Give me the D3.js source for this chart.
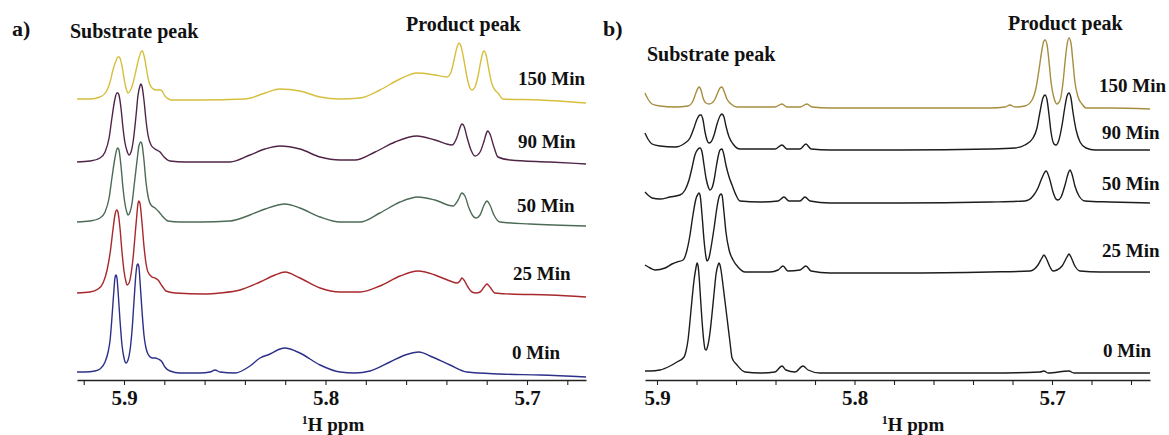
<!DOCTYPE html>
<html>
<head>
<meta charset="utf-8">
<script src="https://cdn.jsdelivr.net/npm/d3@7"></script>
<style>
  body { margin: 0; background: #fff; }
  svg { display: block; }
  text { font-family: "Liberation Serif", "Times New Roman", serif; font-weight: bold; fill: #111; }
</style>
</head>
<body>
<svg id="chart" width="1169" height="435"></svg>
<script>
// ---- 1H NMR spectra, [ppm, intensity] pairs (intensity relative to each trace's baseline) ----

// Panel a)
const specA0 = [[5.9233,1],[5.9194,1],[5.9144,2],[5.9119,4],[5.9094,11],[5.9079,21],[5.9069,33],[5.9060,55],[5.9050,83],[5.9045,95],[5.9040,98],[5.9035,95],[5.9030,83],[5.9020,53],[5.9010,28],[5.9000,15],[5.8990,10],[5.8980,13],[5.8970,23],[5.8960,43],[5.8950,73],[5.8940,101],[5.8935,108],[5.8931,109],[5.8926,106],[5.8921,93],[5.8911,63],[5.8901,38],[5.8891,25],[5.8881,19],[5.8861,15],[5.8846,15],[5.8831,14],[5.8811,11],[5.8797,6],[5.8772,2],[5.8722,0],[5.8623,0],[5.8573,1],[5.8548,3],[5.8524,1],[5.8449,0],[5.8375,7],[5.8325,15],[5.8275,19],[5.8226,24],[5.8201,25],[5.8176,24],[5.8127,20],[5.8027,8],[5.7928,1],[5.7854,0],[5.7779,2],[5.7680,11],[5.7605,18],[5.7536,21],[5.7481,17],[5.7382,8],[5.7298,1],[5.7134,-1],[5.6935,-2],[5.6707,-4]];
const specA25 = [[5.9233,1],[5.9169,2],[5.9129,5],[5.9104,11],[5.9084,24],[5.9069,41],[5.9055,64],[5.9045,79],[5.9040,83],[5.9035,84],[5.9030,82],[5.9020,66],[5.9010,42],[5.9000,23],[5.8990,12],[5.8985,9],[5.8975,11],[5.8965,20],[5.8955,36],[5.8945,59],[5.8935,82],[5.8931,90],[5.8926,93],[5.8921,91],[5.8911,72],[5.8901,48],[5.8891,31],[5.8881,22],[5.8861,17],[5.8846,16],[5.8831,14],[5.8811,8],[5.8792,3],[5.8747,1],[5.8598,0],[5.8524,1],[5.8424,4],[5.8325,12],[5.8251,19],[5.8201,22],[5.8127,16],[5.8027,6],[5.7928,2],[5.7829,2],[5.7730,8],[5.7630,18],[5.7541,23],[5.7457,19],[5.7382,13],[5.7347,11],[5.7333,13],[5.7323,16],[5.7313,14],[5.7293,7],[5.7273,2],[5.7253,1],[5.7233,2],[5.7213,7],[5.7199,10],[5.7184,7],[5.7159,1],[5.7084,0],[5.6886,-1],[5.6707,-3]];
const specA50 = [[5.9233,1],[5.9169,2],[5.9119,5],[5.9094,11],[5.9074,25],[5.9060,45],[5.9045,65],[5.9035,74],[5.9030,75],[5.9025,73],[5.9015,57],[5.9005,35],[5.8995,19],[5.8985,10],[5.8980,8],[5.8970,11],[5.8960,20],[5.8950,37],[5.8935,63],[5.8926,77],[5.8921,80],[5.8916,81],[5.8911,79],[5.8901,63],[5.8891,41],[5.8881,27],[5.8866,18],[5.8846,15],[5.8826,11],[5.8806,6],[5.8782,2],[5.8722,1],[5.8623,1],[5.8474,2],[5.8375,8],[5.8300,14],[5.8201,19],[5.8127,15],[5.8027,6],[5.7928,1],[5.7829,1],[5.7730,10],[5.7630,21],[5.7541,26],[5.7457,23],[5.7367,17],[5.7342,23],[5.7323,30],[5.7308,27],[5.7288,15],[5.7268,7],[5.7253,5],[5.7233,8],[5.7213,18],[5.7199,22],[5.7184,18],[5.7164,8],[5.7134,1],[5.6985,-1],[5.6707,-3]];
const specA90 = [[5.9233,1],[5.9169,2],[5.9119,5],[5.9094,11],[5.9074,25],[5.9060,45],[5.9045,64],[5.9035,70],[5.9030,70],[5.9025,68],[5.9015,55],[5.9005,35],[5.8995,20],[5.8985,12],[5.8975,8],[5.8965,11],[5.8955,21],[5.8940,48],[5.8931,67],[5.8921,77],[5.8916,79],[5.8911,77],[5.8901,63],[5.8891,43],[5.8881,28],[5.8866,18],[5.8846,14],[5.8821,11],[5.8801,6],[5.8772,2],[5.8697,1],[5.8474,1],[5.8375,8],[5.8300,14],[5.8226,17],[5.8127,14],[5.8027,6],[5.7928,3],[5.7854,3],[5.7754,11],[5.7655,21],[5.7546,27],[5.7457,23],[5.7372,18],[5.7347,26],[5.7333,35],[5.7323,39],[5.7313,37],[5.7298,26],[5.7278,13],[5.7258,7],[5.7233,11],[5.7213,22],[5.7199,31],[5.7194,32],[5.7184,29],[5.7164,16],[5.7144,6],[5.7084,3],[5.6886,1],[5.6707,-1]];
const specA150 = [[5.9233,1],[5.9169,1],[5.9119,3],[5.9089,8],[5.9069,18],[5.9055,30],[5.9040,39],[5.9030,43],[5.9025,43],[5.9020,42],[5.9010,34],[5.9000,22],[5.8990,12],[5.8980,7],[5.8970,9],[5.8955,17],[5.8940,30],[5.8926,42],[5.8916,48],[5.8911,49],[5.8906,48],[5.8896,40],[5.8886,28],[5.8876,18],[5.8861,12],[5.8841,10],[5.8821,10],[5.8811,9],[5.8797,4],[5.8762,0],[5.8623,0],[5.8400,1],[5.8300,7],[5.8226,11],[5.8127,9],[5.8027,3],[5.7928,1],[5.7829,2],[5.7730,10],[5.7630,21],[5.7546,27],[5.7457,25],[5.7397,23],[5.7377,28],[5.7362,40],[5.7347,53],[5.7337,57],[5.7328,54],[5.7313,40],[5.7298,23],[5.7283,12],[5.7273,10],[5.7258,13],[5.7243,24],[5.7228,40],[5.7218,48],[5.7213,49],[5.7203,45],[5.7189,30],[5.7174,16],[5.7159,10],[5.7144,7],[5.7119,1],[5.6935,0],[5.6707,-3]];

// Panel b)
const specB0 = [[5.9061,2],[5.9035,2],[5.8985,3],[5.8934,7],[5.8899,11],[5.8863,16],[5.8853,22],[5.8843,33],[5.8833,52],[5.8823,73],[5.8813,92],[5.8803,105],[5.8797,110],[5.8792,107],[5.8787,97],[5.8782,82],[5.8772,52],[5.8762,30],[5.8757,24],[5.8752,23],[5.8742,28],[5.8732,40],[5.8722,58],[5.8711,80],[5.8701,99],[5.8691,108],[5.8686,110],[5.8681,108],[5.8676,103],[5.8666,88],[5.8656,72],[5.8646,56],[5.8630,30],[5.8620,15],[5.8595,8],[5.8554,1],[5.8478,0],[5.8403,1],[5.8367,7],[5.8347,3],[5.8301,1],[5.8261,7],[5.8235,3],[5.8175,0],[5.7770,0],[5.7314,0],[5.7061,1],[5.7041,2],[5.7020,0],[5.6914,2],[5.6889,0],[5.6706,0],[5.6504,0]];
const specB25 = [[5.9061,7],[5.9035,4],[5.9010,2],[5.8959,4],[5.8924,8],[5.8899,10],[5.8868,12],[5.8848,22],[5.8833,37],[5.8818,57],[5.8803,73],[5.8792,78],[5.8787,79],[5.8782,77],[5.8772,57],[5.8762,32],[5.8752,15],[5.8747,11],[5.8737,14],[5.8727,24],[5.8711,44],[5.8696,65],[5.8686,75],[5.8676,78],[5.8671,77],[5.8661,60],[5.8651,40],[5.8635,22],[5.8615,12],[5.8590,5],[5.8554,0],[5.8428,0],[5.8387,2],[5.8362,6],[5.8337,1],[5.8276,2],[5.8246,6],[5.8220,1],[5.8124,-1],[5.7770,-1],[5.7314,0],[5.7111,1],[5.7071,7],[5.7051,14],[5.7041,17],[5.7030,14],[5.7010,5],[5.6995,1],[5.6975,2],[5.6949,6],[5.6924,15],[5.6914,18],[5.6904,15],[5.6884,6],[5.6858,1],[5.6757,0],[5.6504,0]];
const specB50 = [[5.9061,10],[5.9046,7],[5.9025,4],[5.8985,3],[5.8934,5],[5.8884,7],[5.8858,12],[5.8838,22],[5.8823,34],[5.8808,47],[5.8792,53],[5.8782,54],[5.8772,50],[5.8762,37],[5.8752,24],[5.8742,16],[5.8732,12],[5.8722,14],[5.8711,22],[5.8701,34],[5.8691,45],[5.8681,52],[5.8671,53],[5.8661,47],[5.8651,37],[5.8635,25],[5.8620,17],[5.8600,7],[5.8580,1],[5.8478,0],[5.8387,1],[5.8357,5],[5.8332,1],[5.8276,1],[5.8251,5],[5.8225,1],[5.8124,-1],[5.7770,-1],[5.7314,0],[5.7137,1],[5.7096,6],[5.7071,14],[5.7051,24],[5.7030,31],[5.7015,25],[5.6995,10],[5.6980,3],[5.6970,2],[5.6954,5],[5.6934,17],[5.6919,28],[5.6909,32],[5.6899,28],[5.6884,16],[5.6863,6],[5.6833,1],[5.6706,0],[5.6504,-1]];
const specB90 = [[5.9061,16],[5.9046,10],[5.9025,5],[5.8985,3],[5.8909,2],[5.8858,6],[5.8833,11],[5.8813,21],[5.8797,30],[5.8782,34],[5.8777,34],[5.8767,29],[5.8757,17],[5.8747,9],[5.8737,6],[5.8727,7],[5.8711,14],[5.8696,25],[5.8681,33],[5.8671,35],[5.8661,32],[5.8651,23],[5.8635,12],[5.8615,5],[5.8580,0],[5.8403,0],[5.8367,4],[5.8342,0],[5.8276,0],[5.8246,5],[5.8220,0],[5.8124,-1],[5.7770,-1],[5.7314,0],[5.7187,1],[5.7137,4],[5.7096,11],[5.7076,21],[5.7061,37],[5.7046,51],[5.7035,54],[5.7025,49],[5.7015,34],[5.7005,17],[5.6990,5],[5.6980,4],[5.6965,9],[5.6949,24],[5.6934,43],[5.6924,53],[5.6914,56],[5.6904,51],[5.6894,37],[5.6878,19],[5.6858,7],[5.6828,1],[5.6782,-1],[5.6504,-1]];
const specB150 = [[5.9061,14],[5.9046,8],[5.9025,3],[5.8985,1],[5.8909,0],[5.8843,1],[5.8818,6],[5.8803,14],[5.8792,19],[5.8787,20],[5.8777,17],[5.8767,9],[5.8752,4],[5.8737,3],[5.8722,4],[5.8706,8],[5.8691,15],[5.8681,19],[5.8671,20],[5.8661,16],[5.8646,8],[5.8625,3],[5.8595,0],[5.8403,0],[5.8367,3],[5.8342,0],[5.8276,0],[5.8241,3],[5.8215,0],[5.8124,-1],[5.7770,-1],[5.7314,-1],[5.7238,0],[5.7213,2],[5.7187,0],[5.7137,1],[5.7101,7],[5.7081,19],[5.7066,37],[5.7051,57],[5.7041,66],[5.7035,67],[5.7025,62],[5.7015,45],[5.7005,25],[5.6990,9],[5.6975,3],[5.6959,7],[5.6944,25],[5.6934,45],[5.6924,62],[5.6914,69],[5.6904,64],[5.6894,45],[5.6884,25],[5.6868,10],[5.6848,3],[5.6828,-1],[5.6706,-1],[5.6504,-2]];

// Trace labels (reaction time) and vertical stacking offsets, bottom to top
const timeLabels = ["0 Min", "25 Min", "50 Min", "90 Min", "150 Min"];
const stackA = [7, 86, 157, 217, 280];
const stackB = [7, 108, 178, 231, 273];

// Axis ticks (ppm)
const minorTicks = [5.92, 5.90, 5.88, 5.86, 5.84, 5.82, 5.80, 5.78, 5.76, 5.74, 5.72, 5.70, 5.68, 5.66];
const majorTicks = [5.9, 5.8, 5.7];
const tickLabels = ["5.9", "5.8", "5.7"];

const svg = d3.select("#chart");

function drawPanel(p) {
  const g = svg.append("g");
  const x = d3.scaleLinear().domain(p.ppmDomain).range(p.xRange);
  const y = d3.scaleLinear().domain([0, 340]).range([380, 40]);

  // stacked spectra
  p.spectra.forEach((spec, i) => {
    const off = p.stack[i];
    const line = d3.line()
      .x(d => x(d[0]))
      .y(d => y(d[1] + off))
      .curve(d3.curveMonotoneX);
    g.append("path")
      .datum(spec)
      .attr("d", line)
      .attr("fill", "none")
      .attr("stroke", p.colors[i])
      .attr("stroke-width", 1.4)
      .attr("stroke-linejoin", "round");

    g.append("text")
      .attr("x", p.labelX[i])
      .attr("y", y(off + p.labelLift[i]))
      .attr("font-size", 19)
      .text(timeLabels[i]);
  });

  // ppm axis
  const ticks = minorTicks.filter(t => t <= p.ppmDomain[0] && t >= p.ppmDomain[1]);
  const axis = d3.axisBottom(x)
    .tickValues(ticks)
    .tickSize(5)
    .tickSizeOuter(0)
    .tickFormat(v => {
      const k = majorTicks.findIndex(m => Math.abs(m - v) < 1e-9);
      return k >= 0 ? tickLabels[k] : "";
    });
  const ax = g.append("g").attr("transform", "translate(0,380)").call(axis);
  ax.select(".domain").attr("stroke", "#222").attr("stroke-width", 1.3);
  ax.selectAll(".tick line").attr("stroke", "#222").attr("stroke-width", 1.1);
  ax.selectAll(".tick text")
    .attr("y", 10)
    .attr("font-size", 21)
    .attr("font-family", "'Liberation Serif','Times New Roman',serif")
    .attr("font-weight", "bold")
    .attr("fill", "#111");

  // axis title with superscript mass number
  const t = g.append("text")
    .attr("x", p.titleX)
    .attr("y", 431)
    .attr("text-anchor", "middle")
    .attr("font-size", 19);
  t.append("tspan").attr("font-size", 12).attr("dy", -7).text("1");
  t.append("tspan").attr("dy", 7).text("H ppm");

  // panel letter and peak annotations
  g.append("text").attr("x", p.letterX).attr("y", 36).attr("font-size", 22).text(p.letter);
  g.append("text").attr("x", p.subX).attr("y", p.subY).attr("font-size", 20).text("Substrate peak");
  g.append("text").attr("x", p.prodX).attr("y", p.prodY).attr("font-size", 20).text("Product peak");
}

drawPanel({
  spectra: [specA0, specA25, specA50, specA90, specA150],
  stack: stackA,
  colors: ["#2d3088", "#a7282d", "#4c6b55", "#502448", "#d6bf3f"],
  ppmDomain: [5.92333, 5.67072],
  xRange: [77, 586],
  labelX: [512, 513, 517, 518, 518],
  labelLift: [14, 14, 11, 15, 15],
  titleX: 333,
  letter: "a)", letterX: 12,
  subX: 70, subY: 38,
  prodX: 406, prodY: 31
});

drawPanel({
  spectra: [specB0, specB25, specB50, specB90, specB150],
  stack: stackB,
  colors: ["#1c1c1c", "#1c1c1c", "#1c1c1c", "#1c1c1c", "#a68d3f"],
  ppmDomain: [5.90608, 5.65038],
  xRange: [645, 1150],
  labelX: [1103, 1102, 1102, 1102, 1099],
  labelLift: [16, 15, 12, 10, 15],
  titleX: 913,
  letter: "b)", letterX: 603,
  subX: 647, subY: 61,
  prodX: 1008, prodY: 30
});
</script>
</body>
</html>
